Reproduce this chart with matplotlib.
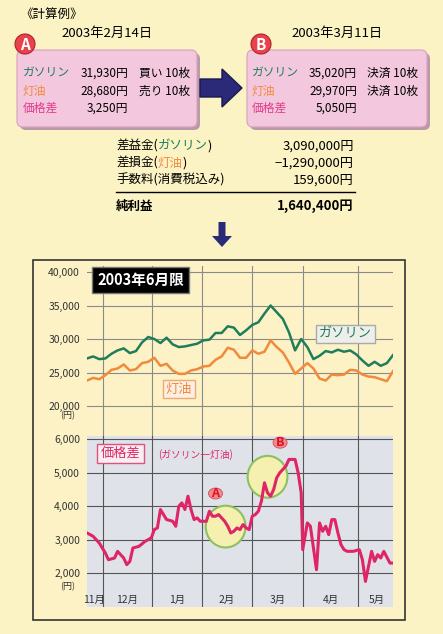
import matplotlib.pyplot as plt
from matplotlib.patches import FancyBboxPatch, Rectangle, Circle, FancyArrow, Ellipse

plt.rcParams['font.family'] = ['Noto Sans CJK JP', 'DejaVu Sans']

W, H = 443, 634
BG = '#fbf3c4'
GREEN = '#1f7d5c'
ORANGE = '#f28a3c'
PINK = '#e02566'
LABEL_PINK = '#e23a8a'

# chart data (x = position along the Nov..May axis, 0..100)
gas_x = list(range(0, 101, 2))
gasoline = [27100, 27400, 27000, 27100, 27800, 28300, 28600, 27900, 28200, 29500,
            30300, 30000, 29400, 30200, 29200, 28800, 28900, 29100, 29300, 29800,
            29900, 30900, 30900, 31900, 31700, 30600, 31300, 32100, 32500, 33800,
            35000, 34000, 33000, 31000, 28300, 30000, 28800, 27000, 27500, 28200,
            28000, 28400, 28100, 28300, 27700, 26800, 26000, 26600, 26000, 26400, 27600]
kerosene = [23800, 24200, 24000, 24600, 25400, 25600, 26200, 25300, 25500, 26400,
            26600, 27200, 26000, 26300, 25300, 24800, 24800, 25300, 25500, 25900,
            26000, 26900, 27400, 28700, 28400, 27200, 27200, 28300, 27800, 28100,
            29800, 28800, 28000, 26500, 24800, 25600, 26400, 25600, 24100, 23800,
            24700, 24600, 24700, 25400, 25300, 24700, 24400, 24300, 24000, 23700, 25200]
spread_x = [0, 2, 4, 6, 7, 9, 10, 12, 13, 14, 15, 17, 19, 21, 22, 23, 24, 25, 26, 28,
            29, 30, 31, 32, 33, 34, 35, 36, 37, 39, 40, 41, 42, 43, 44, 45, 46, 47, 48,
            49, 50, 51, 52, 53, 54, 55, 56, 57, 58, 59, 60, 61, 62, 63, 64, 65, 66, 68,
            69, 70, 70.5, 72, 73, 75, 76, 77, 78, 79, 80, 81, 82, 83, 84, 85, 87, 89,
            90, 91, 92, 93, 94, 95, 96, 97, 99, 100]
spread = [3200, 3100, 2900, 2600, 2400, 2450, 2650, 2450, 2250, 2350, 2750, 2800, 2950,
          3050, 3300, 3350, 3900, 3750, 3600, 3550, 3400, 4000, 4100, 3900, 4300, 3900,
          3600, 3650, 3550, 3550, 3850, 3700, 3700, 3750, 3650, 3550, 3400, 3200, 3250,
          3350, 3300, 3450, 3350, 3300, 3700, 3750, 3850, 4150, 4700, 4400, 4300, 4500,
          4850, 5000, 5100, 5200, 5400, 5400, 5000, 4400, 2700, 3500, 3400, 2100, 3500,
          3250, 3400, 3150, 3600, 3600, 3200, 2850, 2700, 2650, 2650, 2700, 2400, 1750,
          2200, 2650, 2350, 2550, 2450, 2650, 2300, 2300]
month_pos = [5.2, 21.2, 37.6, 53.9, 70.6, 88.6]
months = ['11月', '12月', '1月', '2月', '3月', '4月', '5月']
month_lab_x = [2.3, 13.2, 29.4, 45.8, 62.2, 79.6, 94.6]

fig = plt.figure(figsize=(W / 100, H / 100), dpi=100, facecolor=BG)
ov = fig.add_axes([0, 0, 1, 1], facecolor='none')
ov.set_xlim(0, W)
ov.set_ylim(H, 0)
ov.axis('off')

# ---- top section ----
ov.text(20, 14, '《計算例》', fontsize=9, va='center')
ov.text(107, 33, '2003年2月14日', fontsize=9.5, ha='center', va='center')
ov.text(337, 33, '2003年3月11日', fontsize=9.5, ha='center', va='center')

for bx in (17, 247):
    ov.add_patch(FancyBboxPatch((bx + 3, 53), 180, 77, boxstyle='round,pad=0,rounding_size=6',
                                fc='#b89aa8', ec='none', zorder=1))
    ov.add_patch(FancyBboxPatch((bx, 50), 180, 77, boxstyle='round,pad=0,rounding_size=6',
                                fc='#f3c8de', ec='#d9a0bd', lw=0.8, zorder=2))
for cx, lab in ((25, 'A'), (261, 'B')):
    ov.add_patch(Circle((cx, 44), 10, fc='#e8424a', ec='#b02030', lw=0.8, zorder=3))
    ov.text(cx, 45, lab, fontsize=11, fontweight='bold', color='white', ha='center',
            va='center', zorder=4)

rows = [('ガソリン', GREEN), ('灯油', ORANGE), ('価格差', LABEL_PINK)]
ys = [73, 91, 108]
vals_a = ['31,930円', '28,680円', '3,250円']
vals_b = ['35,020円', '29,970円', '5,050円']
trade_a = ['買い 10枚', '売り 10枚', '']
trade_b = ['決済 10枚', '決済 10枚', '']
for (lab, c), y, va_, vb, ta, tb in zip(rows, ys, vals_a, vals_b, trade_a, trade_b):
    ov.text(23, y, lab, color=c, fontsize=8.5, va='center', zorder=5)
    ov.text(128, y, va_, fontsize=8.5, ha='right', va='center', zorder=5)
    ov.text(139, y, ta, fontsize=8.5, va='center', zorder=5)
    ov.text(252, y, lab, color=c, fontsize=8.5, va='center', zorder=5)
    ov.text(357, y, vb, fontsize=8.5, ha='right', va='center', zorder=5)
    ov.text(367, y, tb, fontsize=8.5, va='center', zorder=5)

ov.add_patch(FancyArrow(200, 88, 22, 0, width=18, head_width=38, head_length=20,
                        length_includes_head=False, fc='#2b2a78', ec='#1a1a50', zorder=3))

sum_rows = [(('差益金(', 'k'), ('ガソリン', GREEN), (')', 'k'), '3,090,000円'),
            (('差損金(', 'k'), ('灯油', ORANGE), (')', 'k'), '−1,290,000円'),
            (('手数料(消費税込み)', 'k'), ('', 'k'), ('', 'k'), '159,600円')]
for y, (p1, p2, p3, v) in zip([146, 163, 180], sum_rows):
    t = ov.text(116, y, p1[0], fontsize=9, va='center')
    for part, col in (p2, p3):
        if part:
            t = ov.annotate(part, xycoords=t, xy=(1, 0.5), va='center', fontsize=9, color=col)
    ov.text(354, y, v, fontsize=9.5, ha='right', va='center')
ov.plot([116, 355], [192, 192], color='k', lw=1)
ov.text(116, 206, '純利益', fontsize=9, fontweight='bold', va='center')
ov.text(354, 206, '1,640,400円', fontsize=9.5, fontweight='bold', ha='right', va='center')
ov.add_patch(FancyArrow(222, 222, 0, 14, width=7, head_width=20, head_length=11,
                        fc='#2b2a78', ec='none'))

# chart frame
ov.add_patch(Rectangle((33, 260), 372, 360, fc='#fcf2c6', ec='#333333', lw=1.2, zorder=0))

def frac(x0, y0, x1, y1):
    return [x0 / W, 1 - y1 / H, (x1 - x0) / W, (y1 - y0) / H]

# ---- upper chart ----
ax1 = fig.add_axes(frac(87, 266, 393, 439), facecolor='none')
ax1.set_xlim(0, 100)
ax1.set_ylim(15075, 40900)
for v in range(20000, 40001, 5000):
    ax1.axhline(v, color='#8a8a8a', lw=0.8, zorder=1)
for m in month_pos:
    ax1.axvline(m, color='#8a8a8a', lw=0.8, zorder=1)
ax1.plot(gas_x, gasoline, color=GREEN, lw=1.8, zorder=3)
ax1.plot(gas_x, kerosene, color=ORANGE, lw=1.8, zorder=3)
ax1.set_yticks(range(20000, 40001, 5000))
ax1.set_yticklabels([f'{v:,}' for v in range(20000, 40001, 5000)], fontsize=7.5, color='#333333')
ax1.tick_params(length=0, pad=5)
ax1.set_xticks([])
for s in ax1.spines.values():
    s.set_visible(False)
ax1.text(-4, 18600, '(円)', fontsize=6.5, ha='right', va='center', color='#333333')
ax1.text(17.5, 38800, '2003年6月限', fontsize=10.5, fontweight='bold', color='white', va='center',
         ha='center', bbox=dict(boxstyle='square,pad=0.35', fc='black', ec='#777777'), zorder=5)
ax1.text(84.5, 30800, 'ガソリン', fontsize=9.5, color=GREEN, ha='center', va='center',
         bbox=dict(boxstyle='square,pad=0.2', fc='#eeeeea', ec='#aaaaaa'), zorder=5)
ax1.text(30, 22500, '灯油', fontsize=9.5, color=ORANGE, ha='center', va='center',
         bbox=dict(boxstyle='square,pad=0.2', fc='#fcf0e4', ec='#f0a878'), zorder=5)

# ---- lower chart ----
ax2 = fig.add_axes(frac(87, 436, 393, 607), facecolor='#dfe3e9')
ax2.set_xlim(0, 100)
ax2.set_ylim(985, 6100)
for v in range(2000, 6001, 1000):
    ax2.axhline(v, color='#555555', lw=0.8, zorder=1)
for m in month_pos:
    ax2.axvline(m, color='#555555', lw=0.8, zorder=1)
ax2.add_patch(Ellipse((45.3, 3390), 13, 1250, fc='#f5f0b0', ec='#8cc060', lw=1.5, zorder=2))
ax2.add_patch(Ellipse((59, 4880), 13, 1250, fc='#f5f0b0', ec='#8cc060', lw=1.5, zorder=2))
ax2.plot(spread_x, spread, color=PINK, lw=2.2, zorder=3)
for (cx, cy), lab in (((42, 4380), 'A'), ((63.1, 5900), 'B')):
    ax2.add_patch(Ellipse((cx, cy), 4.6, 330, fc='#f08a90', ec='#d05060', lw=0.6, zorder=4))
    ax2.text(cx, cy, lab, fontsize=9, fontweight='bold', color='#e01020', ha='center',
             va='center', zorder=5)
ax2.text(4.5, 5580, '価格差', fontsize=9.5, color=PINK, va='center', zorder=5,
         bbox=dict(boxstyle='square,pad=0.25', fc='#f6eef0', ec='#e05080'))
ax2.text(23.2, 5560, '(ガソリン一灯油)', fontsize=7, color=PINK, va='center', zorder=6)
ax2.set_yticks(range(2000, 6001, 1000))
ax2.set_yticklabels([f'{v:,}' for v in range(2000, 6001, 1000)], fontsize=7.5, color='#333333')
ax2.tick_params(length=0, pad=5)
ax2.set_xticks([])
for s in ax2.spines.values():
    s.set_visible(False)
ax2.text(-4, 1600, '(円)', fontsize=6.5, ha='right', va='center', color='#333333')
for xm, lab in zip(month_lab_x, months):
    ax2.text(xm, 1200, lab, fontsize=7.5, ha='center', va='center', color='#333333', zorder=5)

fig.savefig('out.png', dpi=100, facecolor=BG)
